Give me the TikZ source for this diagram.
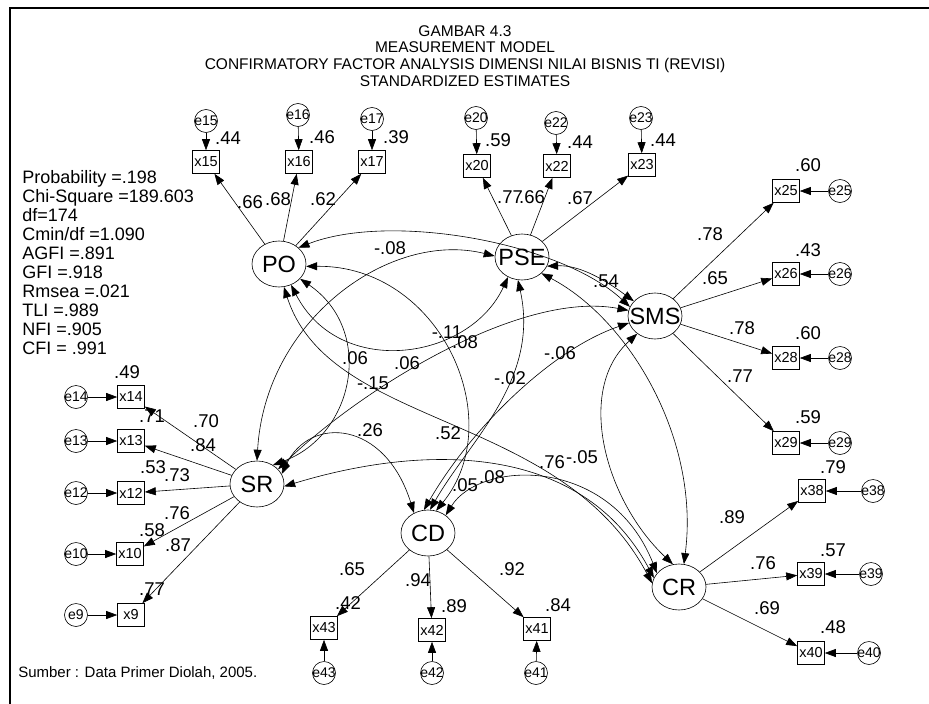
\documentclass[tikz,border=0pt]{standalone}
\usepackage{fontspec}
\setmainfont{Liberation Sans}
\usetikzlibrary{arrows.meta,shapes.geometric}
\tikzset{
 lat/.style={ellipse, draw, minimum width=54pt, minimum height=46pt, inner sep=0pt, font=\fontsize{23.5}{23.5}\selectfont},
 obs/.style={rectangle, draw, minimum width=27pt, minimum height=23pt, inner sep=0pt, font=\fontsize{14.5}{14.5}\selectfont},
 err/.style={circle, draw, minimum size=23pt, inner sep=0pt, font=\fontsize{14}{14}\selectfont},
 lbl/.style={font=\fontsize{18.5}{18.5}\selectfont, inner sep=0pt},
 fit/.style={font=\fontsize{18}{18}\selectfont, inner sep=0pt, anchor=base west},
 ttl/.style={font=\fontsize{15.5}{15.5}\selectfont, inner sep=0pt, anchor=base},
 arr/.style={-{Triangle[length=11pt,width=8pt]}},
 cov/.style={{Triangle[length=11pt,width=8pt]}-{Triangle[length=11pt,width=8pt]}},
}
\newcommand{\zw}[1]{\makebox[0pt][c]{#1}}
\begin{document}
\begin{tikzpicture}[x=1pt,y=-1pt,line width=0.6pt]
\useasboundingbox (0,0) rectangle (929,704);
\draw[line width=2.5pt] (10,704) coordinate (bl) -- (10,8) coordinate (tl) -- (929,8) coordinate (tr);
% title
\node[ttl] (t1) at (465,36) {GAMBAR 4.3};
\node[ttl] (t2) at (465,52.7) {MEASUREMENT MODEL};
\node[ttl] (t3) at (465,69.4) {CONFIRMATORY FACTOR ANALYSIS DIMENSI NILAI BISNIS TI (REVISI)};
\node[ttl] (t4) at (465,86.1) {STANDARDIZED ESTIMATES};
% fit
\foreach \t [count=\i from 0] in {Probability =.198,Chi-Square =189.603,df=174,Cmin/df =1.090,AGFI =.891,GFI =.918,Rmsea =.021,TLI =.989,NFI =.905,CFI = .991}
  \node[fit] (f\i) at (22,183+19.1*\i) {\t};
\node[font=\fontsize{15}{15}\selectfont, inner sep=0pt, anchor=base west] (src) at (18,677) {Sumber : Data Primer Diolah, 2005.};
% latents
\node[lat] (PO) at (279,264) {\zw{PO}};
\node[lat] (PSE) at (522,257) {\zw{PSE}};
\node[lat] (SMS) at (655,316) {\zw{SMS}};
\node[lat] (SR) at (257,484) {\zw{SR}};
\node[lat] (CD) at (428,533) {\zw{CD}};
\node[lat] (CR) at (679,587) {\zw{CR}};
% indicators and errors
\foreach \n/\bx/\by/\ex/\ey/\l in {15/206/162/206/121/PO,16/299/162/298/115/PO,17/372/162/372/119/PO,
  20/477/166/476/118/PSE,22/557/166/556/123/PSE,23/642/165/641/118/PSE,
  25/786/191/840/191/SMS,26/786/274/840/274/SMS,28/786/358/840/358/SMS,29/786/443/840/443/SMS,
  38/812/491/873/491/CR,39/811/574/871/574/CR,40/811/653/869/653/CR,
  14/131/397/76/397/SR,13/131/441/76/441/SR,12/131/493/76/493/SR,10/130/554/76/554/SR,9/131/615/76/615/SR,
  43/324/628/324/673/CD,42/432/630/432/673/CD,41/537/629/536/673/CD}
{
  \node[obs] (x\n) at (\bx,\by) {x\n};
  \node[err] (e\n) at (\ex,\ey) {\zw{e\n}};
  \draw[arr] (e\n) -- (x\n);
  \draw[arr] (\l) -- (x\n);
}
% labels
\foreach \t/\x/\y [count=\i] in {.44/228/138,.46/322/137,.39/396/137,.59/498/140,.44/580/142,.44/663/140,
  .60/808/165,.43/808/250,.60/808/333,.59/808/417,.79/833/467,.57/833/550,.48/833/627,
  .49/127/372,.71/152/416,.53/153/467,.58/152/530,.77/152/589,.42/348/603,.89/454/606,.84/558/605,
  .66/250/202,.68/278/199,.62/323/199,.77/510/197,.66/532/197,.67/580/198,
  .78/710/234,.65/715/278,.78/742/328,.77/740/376,.89/732/517,.76/763/563,.69/767/608,
  .70/206/421,.84/203/445,.73/177/475,.76/177/513,.87/178/545,.65/352/569,.94/418/580,.92/512/569,
  .54/606/281,-.08/390/248,-.11/447/332,.08/465/342,.06/355/358,.06/407/363,-.15/373/383,-.02/510/378,
  -.06/560/353,.26/370/430,.52/448/433,.05/465/485,.08/492/477,.76/552/462,-.05/582/457}
  \node[lbl] (L\i) at (\x,\y) {\t};
% covariances
\draw[cov] (PO.40) .. controls (390,212) and (560,242) .. (SMS.160);
\draw[cov] (PO.-60) .. controls (340,380) and (470,360) .. (PSE.-125);
\draw[cov] (PO.-35) .. controls (375,330) and (355,435) .. (SR.50);
\draw[cov] (PO.-5) .. controls (440,265) and (510,420) .. (CD.70);
\draw[cov] (PO.-78) .. controls (330,430) and (560,410) .. (CR.172);
\draw[cov] (PSE.-20) .. controls (580,265) and (605,280) .. (SMS.145);
\draw[cov] (PSE.178) .. controls (390,230) and (265,320) .. (SR.90);
\draw[cov] (PSE.-100) .. controls (540,380) and (470,440) .. (CD.85);
\draw[cov] (PSE.-40) .. controls (630,320) and (700,440) .. (CR.78);
\draw[cov] (SR.35) .. controls (360,390) and (520,290) .. (SMS.168);
\draw[cov] (SMS.-165) .. controls (550,350) and (470,430) .. (CD.100);
\draw[cov] (SMS.-135) .. controls (575,390) and (605,500) .. (CR.105);
\draw[cov] (SR.22) .. controls (310,415) and (385,420) .. (CD.125);
\draw[cov] (SR.-5) .. controls (420,445) and (580,440) .. (CR.160);
\draw[cov] (CD.45) .. controls (480,460) and (610,455) .. (CR.148);
\end{tikzpicture}
\end{document}
